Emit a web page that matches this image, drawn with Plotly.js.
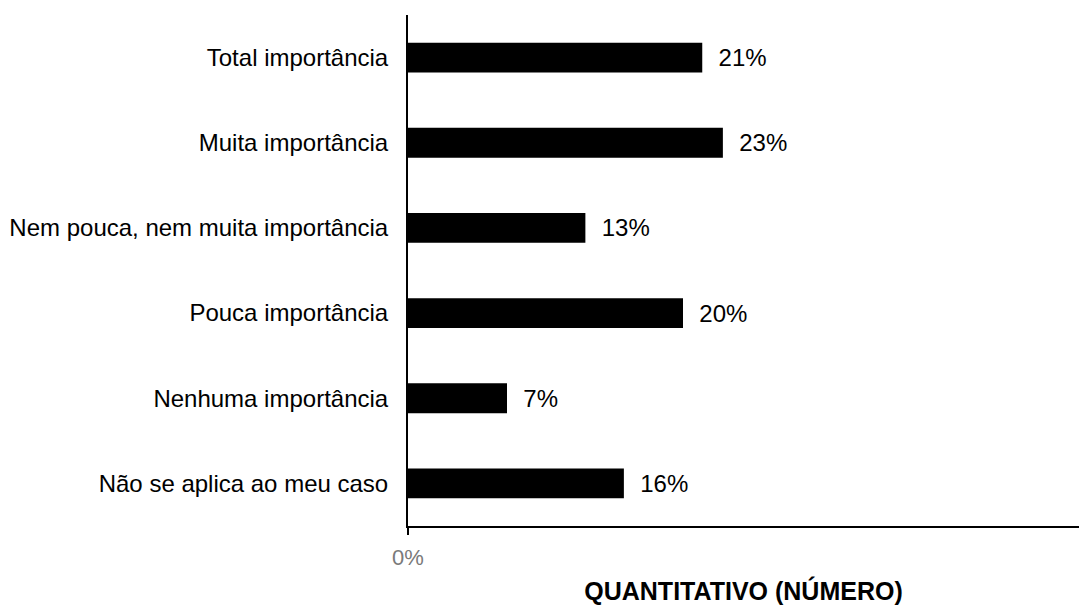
<!DOCTYPE html>
<html>
<head>
<meta charset="utf-8">
<script src="https://cdn.plot.ly/plotly-3.0.1.min.js"></script>
<style>
  html, body { margin: 0; padding: 0; background: #fff; }
  #plot { width: 1079px; height: 605px; }
</style>
</head>
<body>
<div id="plot"></div>
<script>
// categorias de baixo para cima (ordem do eixo y)
const categorias = [
    "Não se aplica ao meu caso",
    "Nenhuma importância",
    "Pouca importância",
    "Nem pouca, nem muita importância",
    "Muita importância",
    "Total importância"
];
// percentuais
const valores = [0.157, 0.072, 0.200, 0.129, 0.229, 0.214];
const x_ticks = [0];
const x_tick_labels = ["0%"];

const fonte = "Liberation Sans, Arial, sans-serif";

const data = [
    {
        type: "bar",
        orientation: "h",
        x: valores,
        y: categorias,
        marker: { color: "#000000" },
        text: valores.map(v => "\u00a0\u00a0" + Math.round(v * 100) + "%"),
        textposition: "outside",
        textfont: { family: fonte, size: 24, color: "#000000" },
        cliponaxis: false,
        hoverinfo: "none"
    }
];

const layout = {
    width: 1079,
    height: 605,
    margin: { l: 408, r: 0, t: 15, b: 79 },
    paper_bgcolor: "#ffffff",
    plot_bgcolor: "#ffffff",
    showlegend: false,
    bargap: 0.65,
    font: { family: fonte, size: 24, color: "#000000" },
    xaxis: {
        range: [0, 0.488],
        tickvals: x_ticks,
        ticktext: x_tick_labels,
        tickfont: { family: fonte, size: 22, color: "#7a7a7a" },
        ticks: "outside",
        ticklen: 7,
        tickwidth: 2,
        tickcolor: "#000000",
        ticklabelstandoff: 4,
        showgrid: false,
        zeroline: false,
        showline: true,
        linecolor: "#000000",
        linewidth: 2,
        title: {
            text: "<b>QUANTITATIVO (NÚMERO)</b>",
            font: { family: fonte, size: 25, color: "#000000" },
            standoff: 17
        },
        fixedrange: true
    },
    yaxis: {
        categoryorder: "array",
        categoryarray: categorias,
        showgrid: false,
        zeroline: false,
        showline: true,
        linecolor: "#000000",
        linewidth: 2,
        ticks: "",
        ticklabelstandoff: 13,
        tickfont: { family: fonte, size: 24, color: "#000000" },
        fixedrange: true
    }
};

const config = { staticPlot: true, displayModeBar: false };

Plotly.newPlot("plot", data, layout, config);
</script>
</body>
</html>
